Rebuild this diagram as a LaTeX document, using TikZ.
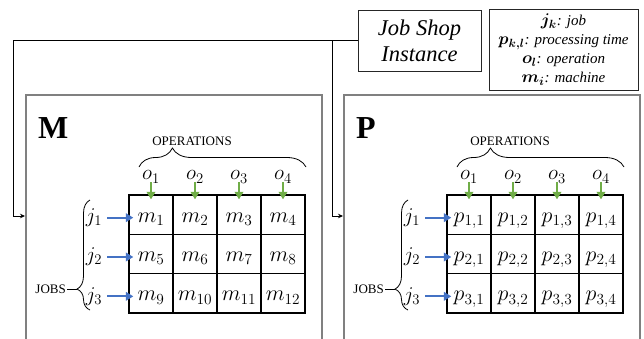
\RequirePackage{fix-cm}
\documentclass[tikz,border=0pt]{standalone}
\usepackage{amsmath}
\usepackage{fontspec}
\setmainfont{Liberation Serif}
\usetikzlibrary{arrows.meta,calc,decorations.pathreplacing}

\definecolor{opgreen}{HTML}{70AD47}
\definecolor{jobblue}{HTML}{4472C4}
\definecolor{panelgrey}{HTML}{808080}

% bold symbol of the legend, a little larger than its text
\newcommand{\legsym}[1]{{\fontsize{17}{19}\selectfont$\boldsymbol{#1}$}}

\tikzset{
  conn/.style={draw=black, line width=0.8pt},
  connarrow/.style={conn, -{Stealth[length=5pt,width=4.5pt]}},
  panelbox/.style={draw=panelgrey, line width=1.6pt, minimum width=296pt,
    minimum height=300pt, anchor=north west, inner sep=0pt},
  paneltitle/.style={anchor=base west, inner sep=0pt,
    font=\fontsize{32}{32}\selectfont\bfseries},
  headtext/.style={inner sep=1pt, font=\fontsize{13}{13}\selectfont},
  cell/.style={draw=black, line width=1.3pt, minimum width=44pt,
    minimum height=39.33pt, inner sep=0pt, text height=15pt, text depth=0pt,
    font=\fontsize{22}{24}\selectfont},
  idxlabel/.style={inner sep=2pt, font=\fontsize{21}{23}\selectfont},
  greenarrow/.style={draw=opgreen, line width=2pt,
    -{Triangle[width=8.5pt,length=7.5pt]}},
  bluearrow/.style={draw=jobblue, line width=2pt,
    -{Triangle[width=8.5pt,length=7.5pt]}},
  bracestyle/.style={decorate, draw=black, line width=0.8pt},
}

% One matrix panel: #1 name prefix, #2 horizontal offset, #3 title, #4 cell entry
\newcommand{\matrixpanel}[4]{%
  \begin{scope}[shift={(#2,0)}]
    \node[panelbox] (#1box) at (25,94) {};
    \node[paneltitle] (#1title) at (38,138) {#3};
    \node[headtext] (#1ops) at (192,141) {OPERATIONS};
    \draw[bracestyle, decoration={brace, amplitude=19pt, aspect=0.2}]
      (139,167) -- (306,167);
    \foreach \ci in {1,...,4} {
      \node[idxlabel] (#1o\ci) at ({129+44*(\ci-0.5)},177) {$o_{\ci}$};
    }
    \foreach \ri in {1,2,3} {
      \node[idxlabel] (#1j\ri) at (94,{195+39.33*(\ri-0.5)+3}) {$j_{\ri}$};
      \foreach \ci in {1,...,4} {
        \node[cell] (#1c\ri\ci) at ({129+44*(\ci-0.5)},{195+39.33*(\ri-0.5)}) {$#4$};
      }
    }
    \foreach \ci in {1,...,4} {
      \draw[greenarrow, shorten <=-3pt, shorten >=-5pt]
        (#1o\ci.south) -- (#1o\ci.south |- #1c1\ci.north);
    }
    \foreach \ri in {1,2,3} {
      \draw[bluearrow, shorten <=3pt, shorten >=-5pt]
        (#1j\ri.east) -- (#1j\ri.east -| #1c\ri1.west);
    }
    \draw[bracestyle, decoration={brace, amplitude=13pt, aspect=0.19}]
      (90,310) -- (90,200);
    \coordinate (#1jtip) at (77,289.1);
    \node[headtext, anchor=east] (#1jobs) at (67,289.1) {JOBS};
    \draw[conn] (#1jobs.east) -- (#1jtip);
  \end{scope}%
}

\begin{document}
\begin{tikzpicture}[x=1pt, y=-1pt]
  \useasboundingbox (0,0) rectangle (644,338);

  % instance box and legend
  \node[draw=black!85, line width=0.9pt, minimum width=123pt, minimum height=61pt,
    align=center, inner sep=0pt, font=\fontsize{22.5}{26}\selectfont\itshape]
    (job) at (419.5,40.5) {Job Shop\\Instance};
  \node[draw=black!85, line width=0.9pt, minimum width=149pt, minimum height=81pt,
    align=center, inner sep=0pt, font=\fontsize{15}{19}\selectfont\itshape]
    (legend) at (563.5,49.5)
    {\legsym{j_k}: job\\
     \legsym{p_{k,l}}: processing time\\
     \legsym{o_l}: operation\\
     \legsym{m_i}: machine};

  % the two matrices
  \matrixpanel{M}{0}{M}{m_{\the\numexpr(\ri-1)*4+\ci\relax}}
  \matrixpanel{P}{318}{P}{p_{\ri,\ci}}

  % feed lines from the instance to both matrices
  \coordinate (jtM) at (13,40.5);
  \coordinate (jtP) at (332,40.5);
  \coordinate (Mentry) at (25,216);
  \coordinate (Pentry) at (343,216);
  \draw[conn] (job.west) -- (jtM);
  \draw[connarrow] (jtM) |- (Mentry);
  \draw[connarrow] (jtP) |- (Pentry);
\end{tikzpicture}
\end{document}
